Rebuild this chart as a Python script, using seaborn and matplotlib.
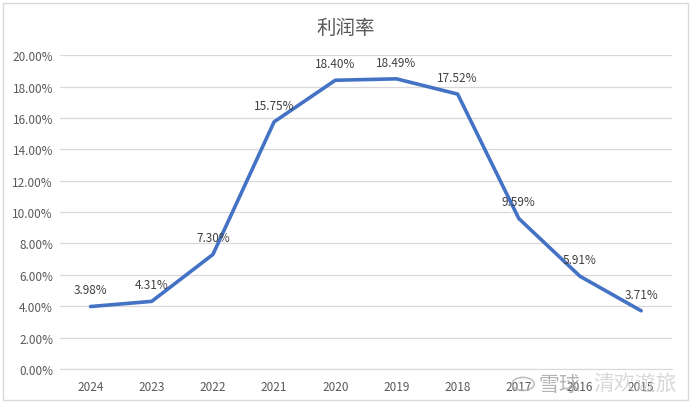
import matplotlib
matplotlib.use("Agg")
import matplotlib.pyplot as plt
import pandas as pd
import seaborn as sns
from matplotlib.ticker import FuncFormatter, MultipleLocator
from matplotlib.patches import Rectangle, Circle

years = ['2024', '2023', '2022', '2021', '2020', '2019', '2018', '2017', '2016', '2015']
margin = [3.98, 4.31, 7.30, 15.75, 18.40, 18.49, 17.52, 9.59, 5.91, 3.71]

df = pd.DataFrame({'year': years, 'rate': margin})

sns.set_style('white')
plt.rcParams['font.family'] = ['Noto Sans CJK SC', 'DejaVu Sans']

fig = plt.figure(figsize=(6.92, 4.06), dpi=100)
ax = fig.add_axes([0.0867, 0.0887, 0.884, 0.773])

# excel-ish chart border
fig.patches.append(Rectangle((0.005, 0.012), 0.989, 0.978, transform=fig.transFigure,
                             fill=False, edgecolor='#d9d9d9', linewidth=1))

sns.lineplot(data=df, x='year', y='rate', sort=False, color='#4472C4', linewidth=2.6, ax=ax)

for i, v in enumerate(margin):
    ax.annotate(f'{v:.2f}%', (i, v), xytext=(0, 12), textcoords='offset points',
                ha='center', va='center', fontsize=8.5, color='#404040')

ax.set_xlim(-0.5, len(years) - 0.5)
ax.set_ylim(0, 20)
ax.yaxis.set_major_locator(MultipleLocator(2))
ax.yaxis.set_major_formatter(FuncFormatter(lambda y, _: f'{y:.2f}%'))
ax.grid(axis='y', color='#d9d9d9', linewidth=0.9)
ax.set_axisbelow(True)
for s in ['top', 'right', 'left']:
    ax.spines[s].set_visible(False)
ax.spines['bottom'].set_color('#d9d9d9')
ax.tick_params(axis='both', length=0, labelsize=8.5, labelcolor='#595959')
ax.tick_params(axis='x', pad=8)
ax.tick_params(axis='y', pad=5)
ax.set_xlabel('')
ax.set_ylabel('')

fig.text(0.5, 0.93, '利润率', ha='center', va='center', fontsize=14, color='#595959')

# watermark
fig.patches.append(Circle((0.756, 0.052), 0.016, transform=fig.transFigure, fill=False,
                          edgecolor='#b0b0b0', linewidth=1.2, alpha=0.8))
fig.text(0.808, 0.052, '雪球', ha='center', va='center', fontsize=15, color='#a0a0a0', alpha=0.8)
fig.text(0.918, 0.052, '清欢遊旅', ha='center', va='center', fontsize=15, color='#c8c8c8', alpha=0.7)

fig.savefig('out.png', dpi=100)
